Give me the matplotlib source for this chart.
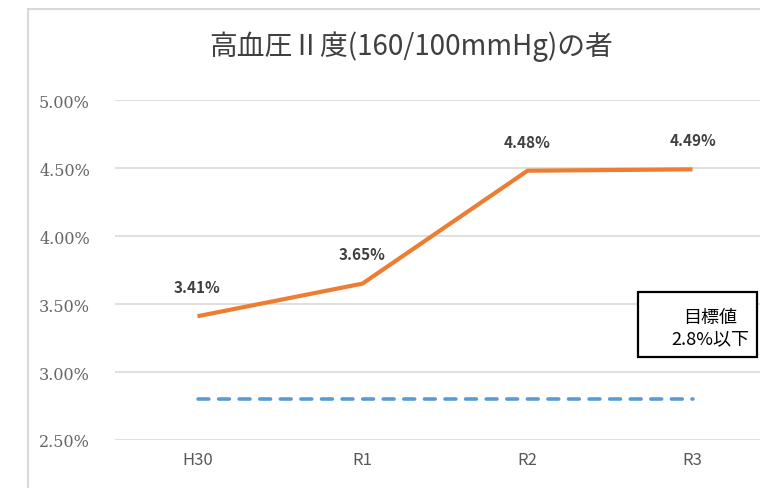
import matplotlib.pyplot as plt
from matplotlib.patches import Rectangle

# Data
years = ['H30', 'R1', 'R2', 'R3']
rates = [3.41, 3.65, 4.48, 4.49]
target = [2.8, 2.8, 2.8, 2.8]
yticks = [2.5, 3.0, 3.5, 4.0, 4.5, 5.0]

title = '高血圧Ⅱ度(160/100mmHg)の者'
target_text = '目標値\n2.8%以下'

W, H = 760, 489
fig = plt.figure(figsize=(W / 100, H / 100), dpi=100)

# chart border (cropped image, only left/top visible)
fig.patches.append(Rectangle((28 / W, -0.1), 1.2, (H - 10) / H + 0.1, transform=fig.transFigure,
                             fill=False, edgecolor='#D9D9D9', linewidth=1.5))

ax = fig.add_axes([115 / W, 48 / H, 660 / W, 340 / H])
x = list(range(len(years)))

ax.plot(x, rates, color='#ED7D31', linewidth=3, solid_capstyle='butt', zorder=3)
ax.plot(x, target, color='#5B9BD5', linewidth=2.6, linestyle=(0, (3, 2.7)),
        dash_capstyle='round', zorder=3)

cjk = ['Noto Sans CJK JP', 'DejaVu Sans']
for xi, v in zip(x, rates):
    ax.annotate(f'{v:.2f}%', (xi, v), xytext=(0, 21), textcoords='offset points',
                ha='center', va='center', fontsize=11, fontweight='bold',
                color='#404040', family=cjk)

ax.set_xlim(-0.5, 3.5)
ax.set_ylim(2.5, 5.0)
ax.set_yticks(yticks)
ax.set_yticklabels([f'{t:.2f}%' for t in yticks], family=['DejaVu Serif'],
                   fontsize=11.5, color='#666666')
ax.set_xticks(x)
ax.set_xticklabels(years, family=cjk, fontsize=12, color='#595959')
ax.tick_params(length=0)
ax.tick_params(axis='y', pad=18)
ax.tick_params(axis='x', pad=8)
ax.grid(axis='y', color='#D9D9D9', linewidth=1.2)
ax.set_axisbelow(True)
for s in ax.spines.values():
    s.set_visible(False)

fig.text(411 / W, 1 - 47 / H, title, ha='center', va='center', fontsize=20,
         color='#404040', family=cjk)

# target box
fig.patches.append(Rectangle((638 / W, 1 - 358 / H), 119 / W, 65 / H, transform=fig.transFigure,
                             facecolor='white', edgecolor='black', linewidth=1.6, zorder=5))
fig.text(710 / W, 1 - 329 / H, target_text, ha='center', va='center', multialignment='center',
         fontsize=13, linespacing=1.25, color='black', family=cjk, zorder=6)

fig.savefig('out.png', dpi=100)
